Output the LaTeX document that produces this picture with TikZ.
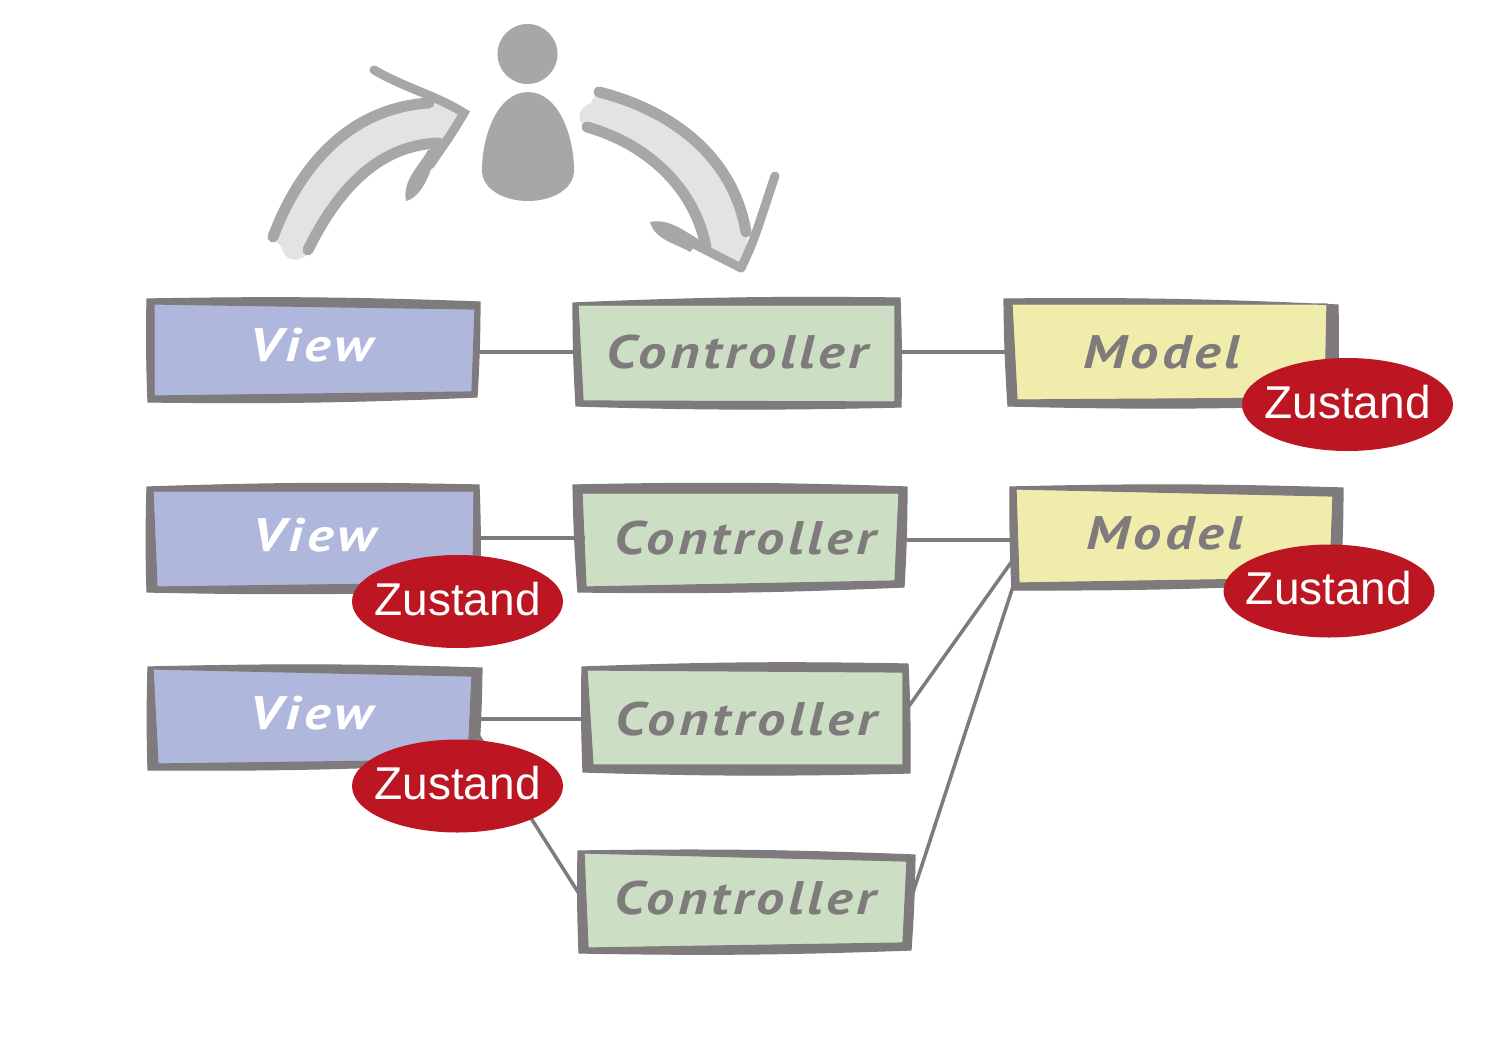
\documentclass[tikz,border=0pt]{standalone}
\usepackage{fontspec}
\newfontfamily\zustandfont{Liberation Sans}
\newfontfamily\chalkfont[LetterSpace=8,FakeStretch=1.2]{PT Sans}
\usetikzlibrary{shapes.geometric}

\definecolor{edgegray}{HTML}{7F7A7B}
\definecolor{viewblue}{HTML}{B0B7DC}
\definecolor{ctrlgreen}{HTML}{CCDFC4}
\definecolor{modelyellow}{HTML}{EFECAC}
\definecolor{zustandred}{HTML}{BC1622}
\definecolor{persongray}{HTML}{A7A7A6}
\definecolor{bandgray}{HTML}{E3E3E3}

% colour, then outer corners and inner corners
\newcommand{\sketchframe}[9]{
  \fill[#1] #6 -- #7 -- #8 -- #9 -- cycle;
  \path[frame] #2 to[bend left=1.5] #3 to[bend left=1.5] #4 to[bend left=1.5] #5 to[bend left=1.5] cycle
    #6 -- #7 -- #8 -- #9 -- cycle;
}

\begin{document}
\begin{tikzpicture}[
    x=1pt, y=-1pt,
    every node/.style={anchor=center},
    box/.style={minimum height=108pt, inner sep=0pt, font=\chalkfont\itshape\bfseries\fontsize{47}{50}\selectfont},
    viewbox/.style={box, text=white, minimum width=324pt},
    ctrlbox/.style={box, text=edgegray, minimum width=320pt},
    modelbox/.style={box, text=edgegray, minimum width=304pt},
    zustand/.style={ellipse, fill=zustandred, text=white, inner sep=0pt, inner xsep=-9pt, text depth=6pt, minimum width=211pt, minimum height=93pt, font=\zustandfont\fontsize{46}{50}\selectfont},
    frame/.style={fill=edgegray, draw=edgegray, line width=1.2pt, line join=round, even odd rule},
    link/.style={draw=edgegray, line width=3.5pt},
    stroke/.style={draw=persongray, line width=11pt, line cap=round},
    band/.style={fill=bandgray, draw=bandgray, line width=4pt, line join=round}
    ]
\useasboundingbox (0,0) rectangle (1508,1042);

% Person
\fill[persongray] (527.5,54) circle (30);
\fill[persongray] (528,92) .. controls (498,92) and (482,135) .. (482,170)
  .. controls (482,190) and (505,201) .. (528,201)
  .. controls (551,201) and (574,190) .. (574,170)
  .. controls (574,135) and (558,92) .. (528,92) -- cycle;

% Left arrow
\fill[band] (273,237) .. controls (300,165) and (350,105) .. (431,103)
  -- (464,113) -- (439,143) .. controls (375,145) and (335,195) .. (308,250)
  .. controls (300,262) and (285,260) .. (283,245) -- cycle;
\draw[stroke] (273,237) .. controls (300,165) and (350,108) .. (429,103);
\draw[stroke] (308,250) .. controls (335,195) and (375,145) .. (439,143);
\draw[stroke, line width=9pt] (374,70) .. controls (405,88) and (435,95) .. (464,113)
  .. controls (450,137) and (440,150) .. (430,165);
\fill[persongray] (436,148) .. controls (432,175) and (420,198) .. (406,201)
  .. controls (402,180) and (420,165) .. (428,150) -- cycle;

% Right arrow
\fill[band] (599,92) .. controls (670,108) and (735,155) .. (746,232)
  -- (741,268) -- (706,247) .. controls (695,190) and (650,145) .. (587,127)
  .. controls (578,120) and (580,108) .. (592,105) -- cycle;
\draw[stroke] (599,92) .. controls (670,110) and (733,155) .. (746,232);
\draw[stroke] (587,127) .. controls (650,145) and (695,190) .. (706,247);
\draw[stroke, line width=9pt] (741,268) .. controls (755,240) and (760,220) .. (775,176);
\draw[stroke, line width=9pt] (741,268) -- (690,242);
\fill[persongray] (650,222) .. controls (670,218) and (685,232) .. (700,240)
  -- (690,252) .. controls (675,243) and (655,240) .. (650,222) -- cycle;

% Box frames
\sketchframe{viewblue}{(147,299)}{(480,302)}{(477,397)}{(148,402)}{(154,304)}{(475,309)}{(472,392)}{(154,396)}
\sketchframe{ctrlgreen}{(573,303)}{(900,298)}{(901,407)}{(576,406)}{(578,305)}{(895,305)}{(895,402)}{(583,401)}
\sketchframe{modelyellow}{(1004,299)}{(1338,305)}{(1337,405)}{(1008,406)}{(1012,304)}{(1327,304)}{(1325,398)}{(1017,400)}
\sketchframe{viewblue}{(147,487)}{(479,485)}{(480,590)}{(147,592)}{(153,491)}{(474,491)}{(473,583)}{(157,587)}
\sketchframe{ctrlgreen}{(573,485)}{(907,487)}{(904,587)}{(578,592)}{(582,493)}{(899,493)}{(895,581)}{(586,587)}
\sketchframe{modelyellow}{(1010,487)}{(1343,488)}{(1340,582)}{(1012,590)}{(1016,489)}{(1333,496)}{(1330,578)}{(1019,583)}
\sketchframe{viewblue}{(148,667)}{(482,668)}{(478,763)}{(148,770)}{(153,669)}{(472,676)}{(468,760)}{(158,764)}
\sketchframe{ctrlgreen}{(582,667)}{(908,664)}{(910,773)}{(583,772)}{(587,670)}{(903,672)}{(903,765)}{(593,765)}
\sketchframe{ctrlgreen}{(578,851)}{(915,855)}{(911,950)}{(579,953)}{(584,853)}{(907,861)}{(903,943)}{(588,948)}

% Box labels
\node[viewbox] (View1) at (311,345) {View};
\node[ctrlbox] (Ctrl1) at (737,352) {Controller};
\node[modelbox] (Model1) at (1162,352) {Model};
\node[viewbox] (View2) at (314,535) {View};
\node[ctrlbox] (Ctrl2) at (745,538) {Controller};
\node[modelbox] (Model2) at (1165,533) {Model};
\node[viewbox] (View3) at (311,713) {View};
\node[ctrlbox] (Ctrl3) at (746,719) {Controller};
\node[ctrlbox] (Ctrl4) at (745,898) {Controller};

% Connectors
\draw[link] (View1.east |- Ctrl1.west) -- (Ctrl1.west);
\draw[link] (Ctrl1.east) -- (Ctrl1.east -| Model1.west);
\draw[link] (View2.east |- Ctrl2.west) -- (Ctrl2.west);
\draw[link] ([yshift=-2pt]Ctrl2.east) -- ([yshift=-7pt]Model2.west);
\draw[link] (View3.east |- Ctrl3.west) -- (Ctrl3.west);
\draw[link] ([yshift=9pt]Ctrl3.east) -- ([yshift=-27pt]Model2.west);
\draw[link] ([xshift=6pt]Ctrl4.east) -- (Model2.south west);
\draw[link] ([xshift=3pt, yshift=-19pt]View3.east) -- ([xshift=-3pt]Ctrl4.west);

% State
\node[zustand] (State1) at (1347.5,404.5) {Zustand};
\node[zustand] (State2) at (457.5,601.5) {Zustand};
\node[zustand] (State3) at (457.5,786) {Zustand};
\node[zustand] (State4) at (1329,591) {Zustand};

\end{tikzpicture}
\end{document}
